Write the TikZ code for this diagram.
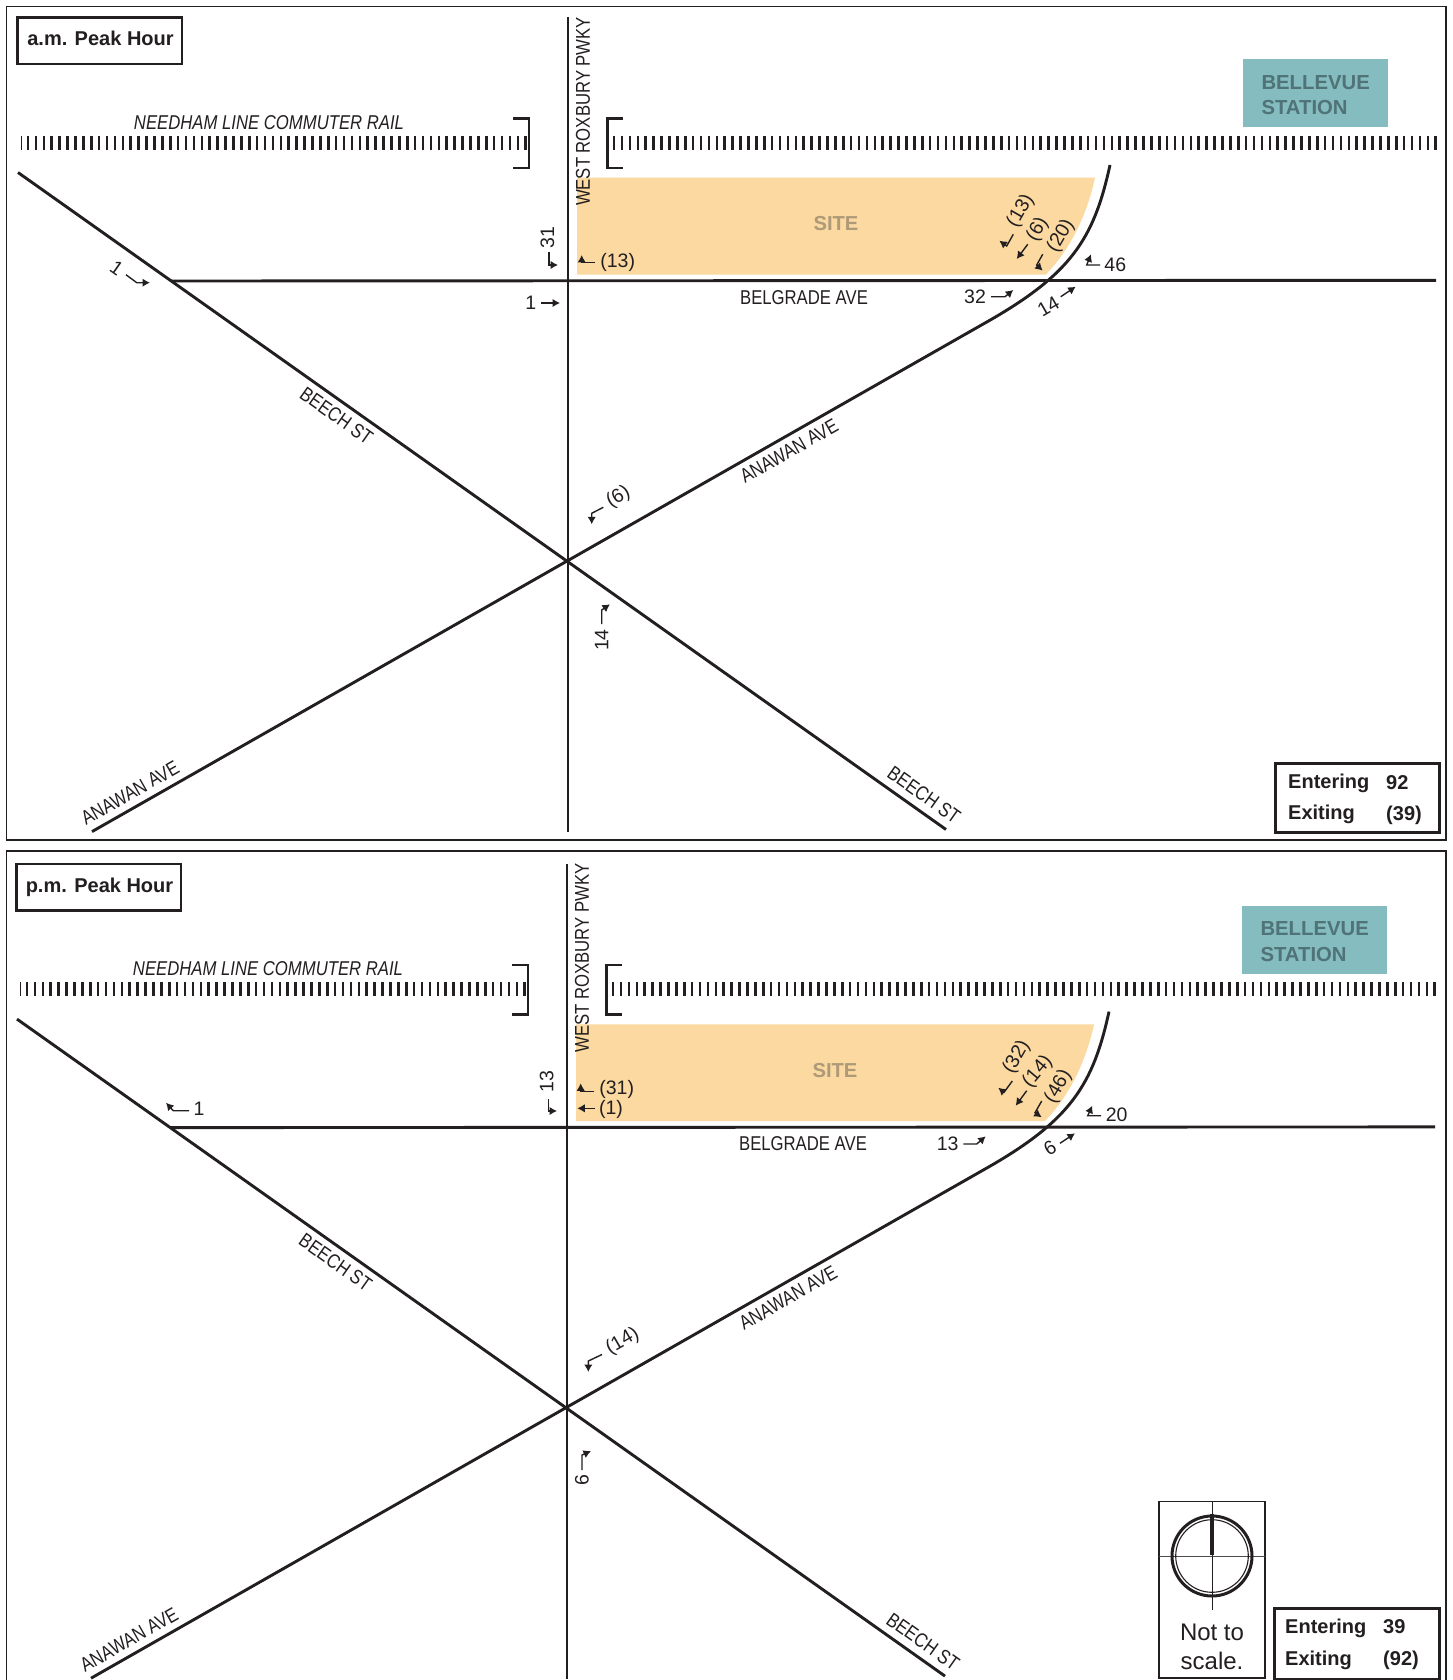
\documentclass[tikz,border=0pt]{standalone}
\usepackage{fontspec}
\setmainfont{Liberation Sans}
\newfontfamily\narrowfont[FakeStretch=0.835]{Liberation Sans}
\usetikzlibrary{arrows.meta}
\definecolor{ink}{HTML}{231F20}
\definecolor{sitefill}{HTML}{FBD9A0}
\definecolor{sitetext}{HTML}{AE9A78}
\definecolor{stationfill}{HTML}{84BCBF}
\definecolor{stationtext}{HTML}{4F7377}
\tikzset{
  panelframe/.style={draw=ink,line width=1.4pt},
  road/.style={draw=ink,line width=2.9pt},
  rail/.style={draw=ink,line width=14pt,dash pattern=on 2.6pt off 5.3pt},
  railbracket/.style={draw=ink,line width=2.7pt},
  labelbox/.style={draw=ink,line width=2.6pt},
  peaktext/.style={inner sep=0pt,anchor=base,font=\fontsize{20}{24}\selectfont\bfseries,text=ink},
  roadname/.style={inner sep=0pt,font=\fontsize{20}{24}\selectfont\narrowfont,text=ink},
  stationname/.style={inner sep=0pt,anchor=west,font=\fontsize{20.3}{24}\selectfont\bfseries,text=stationtext},
  count/.style={inner sep=0pt,font=\fontsize{19.5}{24}\selectfont,text=ink},
  flow/.style={draw=ink,line width=1.4pt,-{Latex[length=7.5pt,width=8.5pt]}},
  tally/.style={inner sep=0pt,anchor=base west,font=\fontsize{20}{24}\selectfont\bfseries,text=ink},
}
\newcommand{\basemap}[4]{%
\begin{scope}[shift={(#2,#3)}]
  \fill[sitefill] (577,177.7) -- (1095,177.7) .. controls (1087,215) and (1070,250) .. (1045.7,274.6) -- (577,274.6) -- cycle;
  \node[roadname,anchor=center] (#1site) at (836,224) {\fontsize{20.2}{24}\selectfont\normalfont\bfseries\color{sitetext}SITE};
  \fill[stationfill] (1243,59) rectangle (1388,127.5);
  \node[stationname] (#1st1) at (1261.3,82.5) {BELLEVUE};
  \node[stationname] (#1st2) at (1261.3,108) {STATION};
  \coordinate (#1railAw) at (527,142.6);
  \coordinate (#1railAe) at (21,142.6);
  \coordinate (#1railBw) at (612.8,142.6);
  \coordinate (#1railBe) at (1440,142.6);
  \draw[rail] (#1railAw) -- (#1railAe);
  \draw[rail] (#1railBw) -- (#1railBe);
  \draw[railbracket] (513,118.5) -- (529,118.5) -- (529,168) -- (513,168);
  \draw[railbracket] (623,118.5) -- (607.4,118.5) -- (607.4,168) -- (623,168);
  \node[roadname,anchor=center,font=\fontsize{20}{24}\selectfont\narrowfont\itshape] (#1rail) at (269,122.5) {NEEDHAM LINE COMMUTER RAIL};
  \coordinate (#1hub) at (567.5,561);
  \coordinate (#1wtop) at (568,17);
  \coordinate (#1wbot) at (568,832);
  \coordinate (#1bw) at (171,281);
  \coordinate (#1be) at (1436,280.3);
  \coordinate (#1bch) at (18,172.5);
  \coordinate (#1bcl) at (946,829.5);
  \coordinate (#1anl) at (92,831.6);
  \coordinate (#1ans) at (985,323);
  \coordinate (#1ant) at (1110,165);
  \draw[road] (#1wtop) -- (#1wbot);
  \draw[road] (#1bw) -- (#1be);
  \draw[road] (#1bch) -- (#1bcl);
  \draw[road] (#1anl) -- (#1ans) .. controls (1072,274) and (1094,238) .. (#1ant);
  \node[roadname,anchor=center,rotate=90] (#1wr) at (583,111.5) {WEST ROXBURY PWKY};
  \node[roadname,anchor=center] (#1bg) at (804,297.5) {BELGRADE AVE};
  \node[roadname,anchor=center,rotate=-35.3] (#1bc1) at (336.5,415.8) {BEECH ST};
  \node[roadname,anchor=center,rotate=-35.3] (#1bc2) at (924,795) {BEECH ST};
  \node[roadname,anchor=center,rotate=29.7] (#1an1) at (789,451) {ANAWAN AVE};
  \node[roadname,anchor=center,rotate=29.7] (#1an2) at (130,793) {ANAWAN AVE};
  \draw[labelbox] (17.5,17.5) rectangle (182,64);
  \node[peaktext] (#1peak) at (100.5,45.5) {#4};
\end{scope}}
\begin{document}
\begin{tikzpicture}[x=1pt,y=-1pt]
\useasboundingbox (0,0) rectangle (1452,1680);
\fill[white] (0,0) rectangle (1452,1680);
\draw[panelframe] (6.4,6.4) rectangle (1446,840);
\draw[panelframe] (6.4,851) rectangle (1446,1684);
\basemap{am}{0}{0}{a.m. Peak Hour}
\basemap{pm}{-1}{846.6}{p.m. Peak Hour}

% a.m. turning counts
\node[count,rotate=-35] (a1) at (116.7,268) {1};
\draw[flow] (126,274.7) -- (136.7,282.7) -- (150,282.7);
\node[count] (a2) at (530.7,302.7) {1};
\draw[flow] (541,303) -- (560,303);
\node[count,rotate=90] (a3) at (547.3,237.3) {31};
\draw[flow] (549,251.7) -- (549,265) -- (558,265);
\node[count] (a4) at (617.7,262.3) {(13)};
\draw[flow] (595,262.3) -- (581.7,262.3) -- (581.7,255);
\node[count,rotate=60] (a5) at (1020.7,211) {(13)};
\draw[flow] (1013.3,234.3) -- (1006.7,246) -- (999.3,240.7);
\node[count,rotate=60] (a6) at (1037.7,229.3) {(6)};
\draw[flow] (1027.7,244.3) -- (1016.7,259);
\node[count,rotate=60] (a7) at (1061,236) {(20)};
\draw[flow] (1042.7,254.3) -- (1036.7,265) -- (1042.7,270.7);
\node[count] (a8) at (1115.3,264.3) {46};
\draw[flow] (1100,265) -- (1086.7,265) -- (1091,254.3);
\node[count] (a9) at (975,296.7) {32};
\draw[flow] (991,296.7) -- (1005,296.7) -- (1013.3,290);
\node[count,rotate=30] (a10) at (1048.3,306.7) {14};
\draw[flow] (1060.7,296.7) -- (1075.7,286.7);
\node[count,rotate=30] (a11) at (618.3,497.3) {(6)};
\draw[flow] (603.3,507.3) -- (591.7,513.3) -- (591.7,524.3);
\node[count,rotate=90] (a12) at (601.7,640) {14};
\draw[flow] (601.7,624) -- (601.7,610) -- (610,604.3);

% a.m. totals
\draw[labelbox,line width=3pt] (1275,763.5) rectangle (1439,832.5);
\node[tally] (a13) at (1288,788) {Entering};
\node[tally] (a14) at (1386,789) {92};
\node[tally] (a15) at (1288,819) {Exiting};
\node[tally] (a16) at (1386,820) {(39)};

% p.m. turning counts
\node[count] (p1) at (199,1108.3) {1};
\draw[flow] (189,1110.7) -- (173.3,1110.7) -- (166,1102.7);
\node[count,rotate=90] (p2) at (546.7,1081.7) {13};
\draw[flow] (548.3,1099) -- (548.3,1111) -- (557,1111);
\node[count] (p3) at (616.7,1089) {(31)};
\draw[flow] (594,1091.7) -- (580.7,1091.7) -- (580.7,1083.3);
\node[count] (p4) at (611,1109) {(1)};
\draw[flow] (595,1108.3) -- (577.3,1108.3);
\node[count,rotate=60] (p5) at (1016.7,1057.3) {(32)};
\draw[flow] (1012.3,1081) -- (1004,1092.3) -- (998.3,1087.7);
\node[count,rotate=50] (p6) at (1037.7,1071.7) {(14)};
\draw[flow] (1026.7,1090.7) -- (1015.7,1105.7);
\node[count,rotate=60] (p7) at (1058.3,1086.7) {(46)};
\draw[flow] (1041.7,1101) -- (1035,1112.7) -- (1041.7,1117.3);
\node[count] (p8) at (1116.7,1114.3) {20};
\draw[flow] (1101,1115.7) -- (1087.7,1115.7) -- (1092.3,1105.7);
\node[count] (p9) at (947.7,1143.3) {13};
\draw[flow] (963.3,1144) -- (976.7,1144) -- (985.7,1136.3);
\node[count,rotate=30] (p10) at (1050,1147.7) {6};
\draw[flow] (1060,1143.3) -- (1075,1133.3);
\node[count,rotate=30] (p11) at (622.6,1341.6) {(14)};
\draw[flow] (602,1354.5) -- (588.3,1361) -- (588.3,1372);
\node[count,rotate=90] (p12) at (582,1480) {6};
\draw[flow] (582,1470) -- (582,1455) -- (591,1451);

% p.m. totals
\draw[labelbox,line width=3pt] (1274,1608.5) rectangle (1439,1679);
\node[tally] (p13) at (1285,1633.5) {Entering};
\node[tally] (p14) at (1383,1633.5) {39};
\node[tally] (p15) at (1285,1665) {Exiting};
\node[tally] (p16) at (1383,1665) {(92)};

% compass
\draw[ink,line width=1.2pt] (1159,1501.5) rectangle (1265,1678);
\draw[black!70,line width=.9pt] (1159,1556) -- (1265,1556);
\draw[ink,line width=.9pt] (1212,1501.5) -- (1212,1610);
\draw[ink,line width=3pt] (1212,1556) circle[radius=40];
\draw[ink,line width=1.1pt] (1212,1556) circle[radius=36.3];
\draw[ink,line width=3.6pt] (1212,1514) -- (1212,1555);
\node[inner sep=0pt,font=\fontsize{24}{26}\selectfont,text=ink] (nts1) at (1212,1632) {Not to};
\node[inner sep=0pt,font=\fontsize{24}{26}\selectfont,text=ink] (nts2) at (1212,1660.5) {scale.};
\end{tikzpicture}
\end{document}
